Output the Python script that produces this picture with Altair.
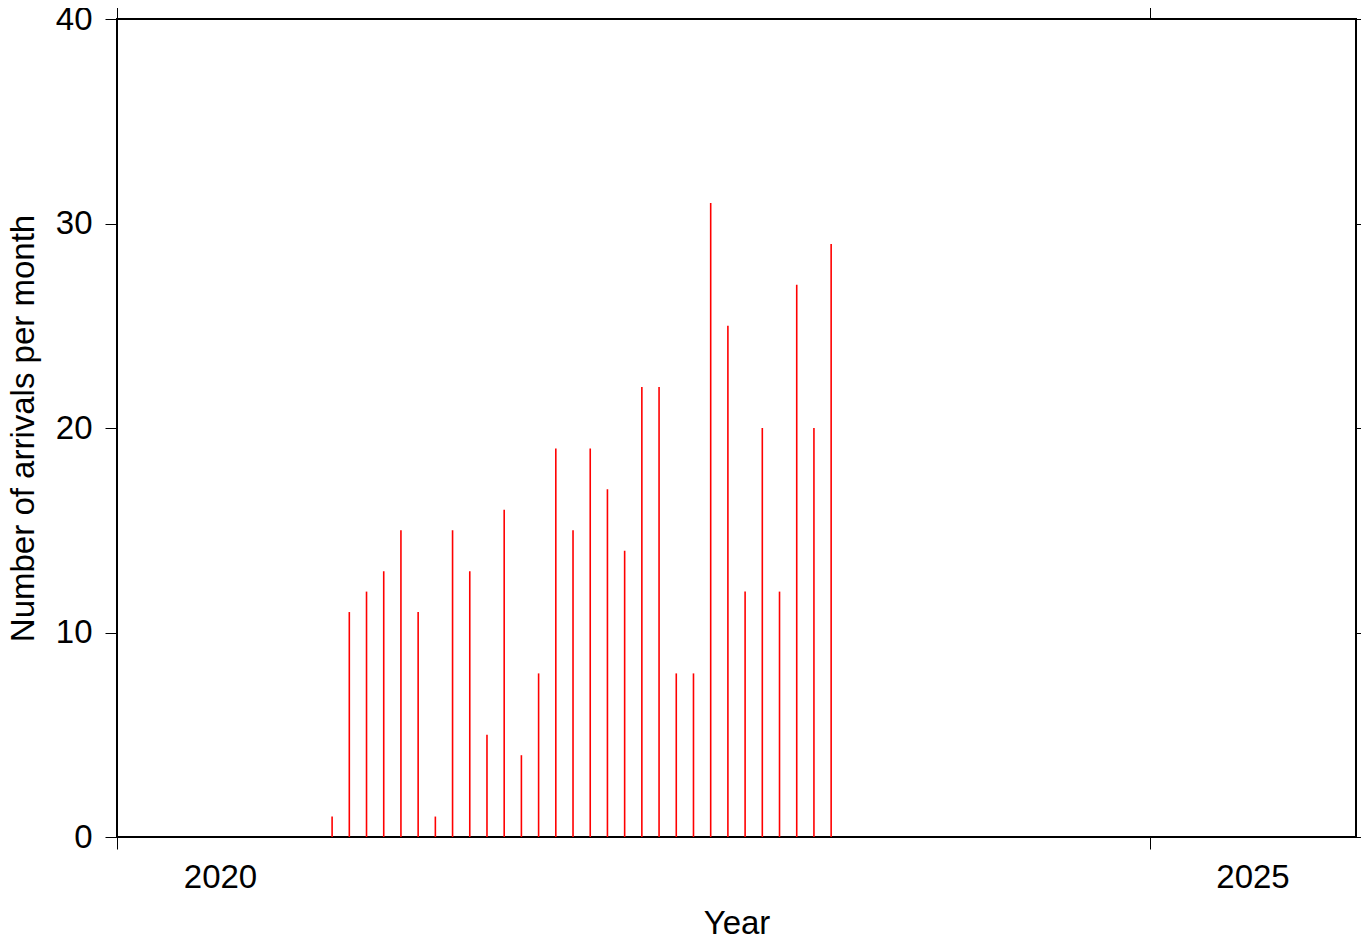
import altair as alt
import pandas as pd

# Monthly arrivals, Jan 2021 .. Jun 2023
start_year = 2021
counts = [1, 11, 12, 13, 15, 11, 1, 15, 13, 5, 16, 4, 8, 19, 15, 19, 17, 14,
          22, 22, 8, 8, 31, 25, 12, 20, 12, 27, 20, 29]
x_ticks = [2020, 2025]
y_ticks = [0, 10, 20, 30, 40]

years = [start_year + (i + 0.5) / 12 for i in range(len(counts))]
df = pd.DataFrame({"year": years, "count": counts})

FONT = "Liberation Sans"
FS = 33
W, H = 1239, 818
x_scale = alt.Scale(domain=[2020, 2026], nice=False, zero=False)
y_scale = alt.Scale(domain=[0, 40], nice=False)

bars = alt.Chart(df).mark_rule(color="#ff0000", strokeWidth=1.6).encode(
    x=alt.X("year:Q", scale=x_scale,
            axis=alt.Axis(orient="bottom", values=x_ticks, format="d",
                          labelOffset=103, labelPadding=12, title="Year",
                          titleY=96, titleBaseline="alphabetic")),
    y=alt.Y("count:Q", scale=y_scale,
            axis=alt.Axis(orient="left", values=y_ticks, labelPadding=13,
                          title="Number of arrivals per month",
                          titleX=-84, titleY=H / 2, titleBaseline="alphabetic",
                          titleAngle=270)),
    y2=alt.datum(0),
)

frame_ticks = alt.Chart(df).mark_rule(opacity=0).encode(
    x=alt.X("year:Q", scale=x_scale,
            axis=alt.Axis(orient="top", values=x_ticks, labels=False, title=None)),
    y=alt.Y("count:Q", scale=y_scale,
            axis=alt.Axis(orient="right", values=y_ticks, labels=False, title=None)),
)

chart = alt.layer(bars, frame_ticks).properties(
    width=W, height=H,
    autosize=alt.AutoSizeParams(type="none"),
    padding={"left": 109, "top": 11, "right": 5, "bottom": 97},
).configure_view(
    stroke="black", strokeWidth=2
).configure_axis(
    domain=False, grid=False, ticks=True, tickSize=12, tickWidth=1,
    tickColor="black", labelColor="black", titleColor="black",
    labelFont=FONT, titleFont=FONT, labelFontSize=FS, titleFontSize=FS,
    titleFontWeight="normal", labelFlush=False, labelOverlap=False,
)

chart.save("out.html", embed_options={"renderer": "svg", "actions": False})
